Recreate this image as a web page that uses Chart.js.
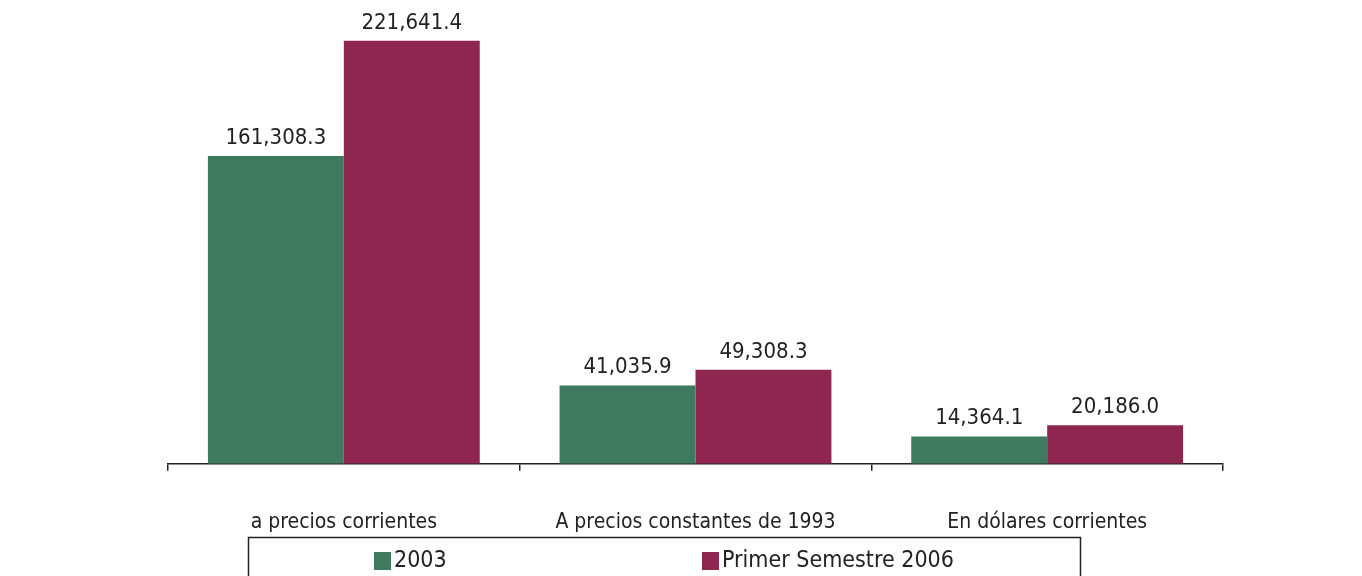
<!DOCTYPE html>
<html>
<head>
<meta charset="utf-8">
<script src="https://cdn.jsdelivr.net/npm/chart.js@4/dist/chart.umd.min.js"></script>
<style>
html,body{margin:0;padding:0;background:#ffffff;}
#wrap{width:1362px;height:576px;position:relative;}
</style>
</head>
<body>
<div id="wrap"><canvas id="c" width="1362" height="576"></canvas></div>
<script>
const categories = ["a precios corrientes", "A precios constantes de 1993", "En dólares corrientes"];
const seriesNames = ["2003", "Primer Semestre 2006"];
const values2003 = [161308.3, 41035.9, 14364.1];
const values2006 = [221641.4, 49308.3, 20186.0];
const seriesColors = ["#3e7a5f", "#8e2650"];

const fmt = v => v.toLocaleString('en-US', {minimumFractionDigits: 1, maximumFractionDigits: 1});

const labelPlugin = {
  id: 'valueLabels',
  afterDatasetsDraw(chart) {
    const ctx = chart.ctx;
    ctx.save();
    ctx.font = '22px "DejaVu Sans Condensed", "DejaVu Sans", sans-serif';
    ctx.fillStyle = '#222222';
    ctx.textAlign = 'center';
    ctx.textBaseline = 'alphabetic';
    chart.data.datasets.forEach((ds, di) => {
      const meta = chart.getDatasetMeta(di);
      meta.data.forEach((bar, i) => {
        ctx.fillText(fmt(ds.data[i]), bar.x, bar.y - 12);
      });
    });
    ctx.restore();
  }
};

const legendPlugin = {
  id: 'boxLegend',
  afterDraw(chart) {
    const ctx = chart.ctx;
    ctx.save();
    ctx.strokeStyle = '#222222';
    ctx.lineWidth = 1.5;
    ctx.strokeRect(248.5, 537.5, 832, 40);
    const items = [
      {x: 374, text: seriesNames[0], color: seriesColors[0]},
      {x: 702, text: seriesNames[1], color: seriesColors[1]}
    ];
    ctx.font = '23px "DejaVu Sans Condensed", "DejaVu Sans", sans-serif';
    ctx.textBaseline = 'middle';
    ctx.textAlign = 'left';
    items.forEach(it => {
      ctx.fillStyle = it.color;
      ctx.fillRect(it.x, 552, 17, 18);
      ctx.fillStyle = '#222222';
      ctx.fillText(it.text, it.x + 20, 561);
    });
    ctx.restore();
  }
};

new Chart(document.getElementById('c'), {
  type: 'bar',
  data: {
    labels: categories,
    datasets: [
      {label: seriesNames[0], data: values2003, backgroundColor: seriesColors[0], borderWidth: 0, categoryPercentage: 0.773, barPercentage: 1.0},
      {label: seriesNames[1], data: values2006, backgroundColor: seriesColors[1], borderWidth: 0, categoryPercentage: 0.773, barPercentage: 1.0}
    ]
  },
  options: {
    responsive: false,
    animation: false,
    devicePixelRatio: 1,
    layout: {padding: {left: 168, right: 139, top: 0, bottom: 2}},
    plugins: {legend: {display: false}, tooltip: {enabled: false}},
    scales: {
      x: {
        grid: {display: true, drawOnChartArea: false, drawTicks: true, tickLength: 7, color: '#222222', lineWidth: 1.5},
        border: {display: true, color: '#222222', width: 1.5},
        ticks: {
          color: '#222222',
          padding: 39,
          font: {family: '"Liberation Sans Narrow", "DejaVu Sans Condensed", sans-serif', size: 21}
        }
      },
      y: {
        display: false,
        min: 0,
        max: 243000,
        grid: {display: false}
      }
    }
  },
  plugins: [labelPlugin, legendPlugin]
});
</script>
</body>
</html>
